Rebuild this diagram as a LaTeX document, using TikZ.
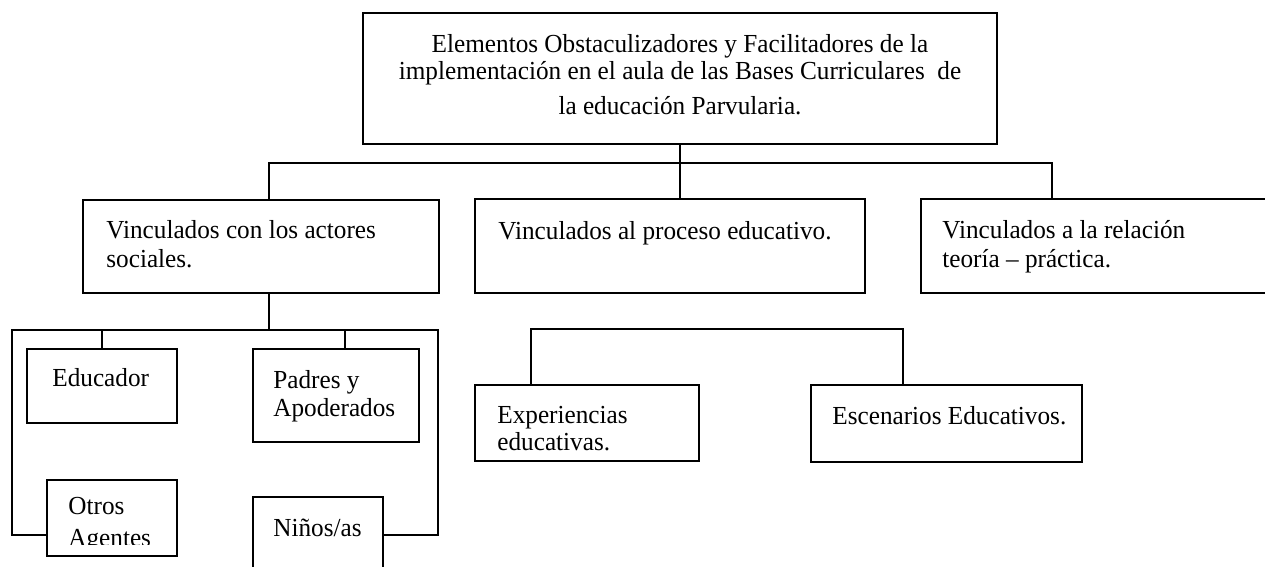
\documentclass[tikz,border=0pt]{standalone}
\usepackage{fontspec}
\setmainfont[FakeStretch=0.97]{Liberation Serif}
\newcommand\dfont{\fontsize{13}{14}\selectfont}
\begin{document}
\begin{tikzpicture}[x=0.5pt,y=-0.5pt,
  box/.style={draw, line width=0.65pt, inner sep=0pt, rectangle},
  txt/.style={inner sep=0pt, anchor=base west, font=\dfont},
  ctxt/.style={inner sep=0pt, anchor=base, font=\dfont},
  ln/.style={line width=0.65pt}]
\useasboundingbox (0,0) rectangle (1265,567);
\fill[white] (0,0) rectangle (1265,567);
\begin{scope}
\clip (0,0) rectangle (1265,567);
% boxes
\node[box, minimum width=317pt, minimum height=65.5pt] (top) at (680,78.5) {};
\node[box, minimum width=178pt, minimum height=46.5pt] (actors) at (261,246.5) {};
\node[box, minimum width=195pt, minimum height=47pt] (proc) at (670,246) {};
\node[box, minimum width=184.5pt, minimum height=47pt] (teor) at (1105.5,246) {};
\node[box, minimum width=75pt, minimum height=37pt] (educ) at (102,386) {};
\node[box, minimum width=83pt, minimum height=46.5pt] (padres) at (336,395.5) {};
\node[box, minimum width=65pt, minimum height=38pt] (otros) at (112,518) {};
\node[box, minimum width=65pt, minimum height=51.5pt] (ninos) at (318,548.5) {};
\node[box, minimum width=112pt, minimum height=38pt] (exp) at (587,423) {};
\node[box, minimum width=135.5pt, minimum height=38.5pt] (esc) at (946.5,423.5) {};
% texts
\node[ctxt] (t1) at (680,53) {Elementos Obstaculizadores y Facilitadores de la};
\node[ctxt] (t2) at (680,80) {implementación en el aula de las Bases Curriculares\ \ de};
\node[ctxt] (t3) at (680,115) {la educación Parvularia.};
\node[txt] (ta1) at (106,239) {Vinculados con los actores};
\node[txt] (ta2) at (106,267) {sociales.};
\node[txt] (tp) at (498,240) {Vinculados al proceso educativo.};
\node[txt] (tt1) at (942,238) {Vinculados a la relación};
\node[txt] (tt2) at (942,267) {teoría – práctica.};
\node[txt] (te) at (52,386) {Educador};
\node[txt] (tpa1) at (273,388) {Padres y};
\node[txt] (tpa2) at (273,416) {Apoderados};
\node[txt] (to1) at (68,514) {Otros};
\begin{scope}
\clip (40,520) rectangle (180,544);
\node[txt] (to2) at (68,546) {Agentes};
\end{scope}
\node[txt] (tn) at (273,536) {Niños/as};
\node[txt] (tx1) at (497,423) {Experiencias};
\node[txt] (tx2) at (497,450) {educativas.};
\node[txt] (ts) at (832,424) {Escenarios Educativos.};
% connectors
\coordinate (j1) at (269,163);
\coordinate (j2) at (1052,163);
\draw[ln] (top.south) -- (top.south |- proc.north);
\draw[ln] (j1 |- actors.north) -- (j1) -- (j2) -- (j2 |- teor.north);
\coordinate (bl) at (12,330);
\coordinate (br) at (438,330);
\coordinate (ya) at (0,535);
\coordinate (pc) at (345,330);
\draw[ln] (actors.south -| j1) -- (j1 |- bl);
\draw[ln] (otros.west |- ya) -| (bl) -- (br) |- (ninos.east |- ya);
\draw[ln] (educ.north) -- (educ.north |- bl);
\draw[ln] (pc) -- (pc |- padres.north);
\coordinate (e1) at (531,329);
\coordinate (e2) at (903,329);
\draw[ln] (e1 |- exp.north) -- (e1) -- (e2) -- (e2 |- esc.north);
\end{scope}
\end{tikzpicture}
\end{document}
